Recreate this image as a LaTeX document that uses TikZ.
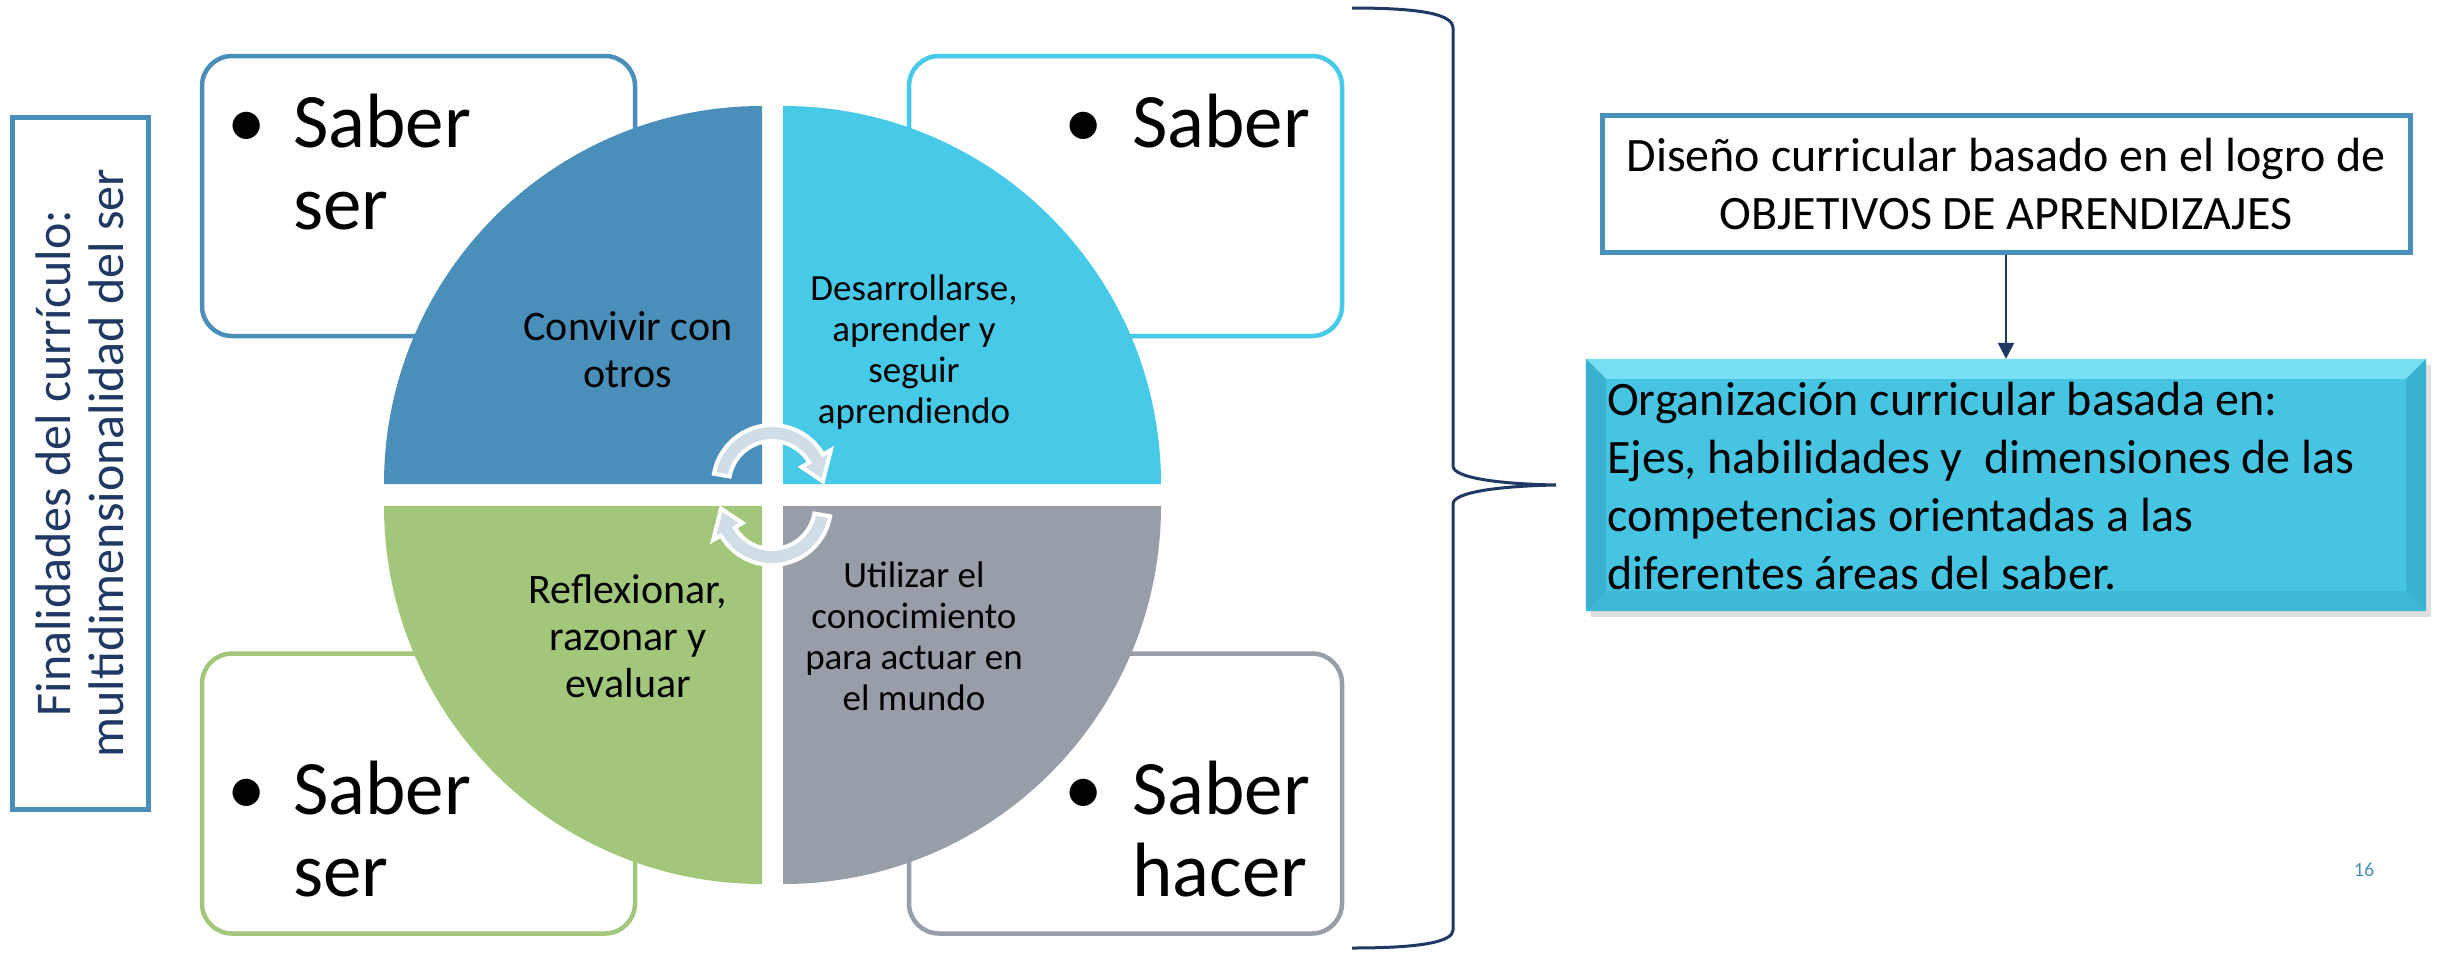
\documentclass[tikz,border=0pt]{standalone}
\usepackage{fontspec}
\setmainfont{Carlito}
\usetikzlibrary{calc}
\usetikzlibrary{arrows.meta}
\usetikzlibrary{shadows}

\definecolor{steel}{RGB}{74,143,185}
\definecolor{skyq}{RGB}{71,201,232}
\definecolor{leaf}{RGB}{163,199,122}
\definecolor{slate}{RGB}{151,158,167}
\definecolor{navy}{RGB}{31,56,100}
\definecolor{cyclefill}{RGB}{208,220,230}
\definecolor{orgcyan}{RGB}{70,197,227}
\definecolor{orglight}{RGB}{120,224,244}
\definecolor{orgdark}{RGB}{58,178,207}

\begin{document}
\begin{tikzpicture}[x=1pt, y=-1pt,
    sbox/.style={draw, line width=4.5pt, rounded corners=30pt, fill=white,
        minimum width=433pt, minimum height=280pt, inner sep=0pt},
    saber/.style={font=\fontsize{77}{82}\selectfont, align=left, anchor=base west, inner sep=0pt},
    dot/.style={font=\fontsize{77}{82}\selectfont, anchor=base, inner sep=0pt},
    qbig/.style={font=\fontsize{42}{47}\selectfont, align=center, anchor=base, inner sep=0pt},
    qsmall/.style={font=\fontsize{37}{41}\selectfont, align=center, anchor=base, inner sep=0pt},
    cyclearr/.style={fill=cyclefill, draw=white, line width=4pt},
    finbox/.style={draw=steel, line width=5pt, rotate=90, align=center, text=navy,
        font=\fontsize{50}{53}\selectfont, minimum width=692pt, minimum height=136pt},
    disbox/.style={draw=steel, line width=5pt, align=center, fill=white,
        font=\fontsize{48}{58}\selectfont, minimum width=808pt, minimum height=137pt},
    orgbox/.style={fill=orgcyan, minimum width=840pt, minimum height=252pt, inner sep=0pt,
        drop shadow={shadow xshift=5pt, shadow yshift=-6pt, opacity=0.25}},
    orgtxt/.style={align=left, anchor=base west, inner sep=0pt, font=\fontsize{48}{58}\selectfont},
    brace/.style={navy, line width=3pt}]
    \useasboundingbox (0,0) rectangle (2438,956);

    % left label
    \node[finbox] (fin) at (80,463) {Finalidades del currículo:\\multidimensionalidad del ser};

    % four boxes behind the circle
    \foreach \bx/\by/\bc/\bn in {418.5/196/steel/tl, 1125.5/196/skyq/tr, 418.5/793.5/leaf/bl, 1125.5/793.5/slate/br}
        \node[sbox, draw=\bc] (box\bn) at (\bx,\by) {};

    \node[dot] (dottl) at (247,147) {\textbullet};
    \node[saber] (sabtl) at (293,229) {Saber\\ser};
    \node[dot] (dottr) at (1084,147) {\textbullet};
    \node[saber] (sabtr) at (1132,147) {Saber};
    \node[dot] (dotbl) at (247,814) {\textbullet};
    \node[saber] (sabbl) at (293,896) {Saber\\ser};
    \node[dot] (dotbr) at (1084,814) {\textbullet};
    \node[saber] (sabbr) at (1132,896) {Saber\\hacer};

    % circle in four quarters
    \fill[steel] (762,484) -- (384,484) arc[start angle=180, end angle=270, radius=378] -- cycle;
    \fill[skyq] (783,484) -- (783,106) arc[start angle=270, end angle=360, radius=378] -- cycle;
    \fill[slate] (783,506) -- (1161,506) arc[start angle=0, end angle=90, radius=378] -- cycle;
    \fill[leaf] (762,506) -- (762,884) arc[start angle=90, end angle=180, radius=378] -- cycle;

    \node[qbig] (conv) at (628,387) {Convivir con\\otros};
    \node[qsmall] (desa) at (914,423) {Desarrollarse,\\aprender y\\seguir\\aprendiendo};
    \node[qbig] (refl) at (628,697) {Reflexionar,\\razonar y\\evaluar};
    \node[qsmall] (util) at (914,710) {Utilizar el\\conocimiento\\para actuar en\\el mundo};

    % turning arrows in the middle
    \newcommand*\cyclearrow{(190:59) arc[start angle=190, end angle=330, radius=59]
        -- (330:68) -- (357:51) -- (330:34) -- (330:43)
        arc[start angle=330, end angle=190, radius=43] -- cycle}
    \begin{scope}[shift={(772,484)}]
        \path[cyclearr] \cyclearrow;
    \end{scope}
    \begin{scope}[shift={(772,506)}, rotate=180]
        \path[cyclearr] \cyclearrow;
    \end{scope}

    % brace
    \draw[brace] (1352,8) .. controls (1420,8) and (1453,14) .. (1453,28) -- (1453,466)
        .. controls (1453,478) and (1500,484) .. (1556,485)
        .. controls (1500,486) and (1453,492) .. (1453,504) -- (1453,930)
        .. controls (1453,942) and (1420,948) .. (1352,948);

    % right side
    \node[disbox] (diseno) at (2006,183.5) {Diseño curricular basado en el logro de\\OBJETIVOS DE APRENDIZAJES};
    \node[orgbox] (org) at (2006,485) {};
    \fill[orglight] (org.north west) -- (org.north east) -- ($(org.north east)+(-20,20)$) -- ($(org.north west)+(20,20)$) -- cycle;
    \fill[orgdark] (org.north west) -- ($(org.north west)+(20,20)$) -- ($(org.south west)+(20,-20)$) -- (org.south west) -- cycle;
    \fill[orgdark] (org.north east) -- ($(org.north east)+(-20,20)$) -- ($(org.south east)+(-20,-20)$) -- (org.south east) -- cycle;
    \fill[orgdark!70!orgcyan] (org.south west) -- ($(org.south west)+(20,-20)$) -- ($(org.south east)+(-20,-20)$) -- (org.south east) -- cycle;
    \node[orgtxt] (orgt) at (1607,589) {Organización curricular basada en:\\Ejes, habilidades y~ dimensiones de las\\competencias orientadas a las\\diferentes áreas del saber.};
    \draw[navy, line width=2.5pt, -{Triangle[length=16pt, width=16pt]}] (diseno) -- (org);

    \node[text=steel, font=\fontsize{20}{24}\selectfont] (pg) at (2364,870) {16};
\end{tikzpicture}
\end{document}
